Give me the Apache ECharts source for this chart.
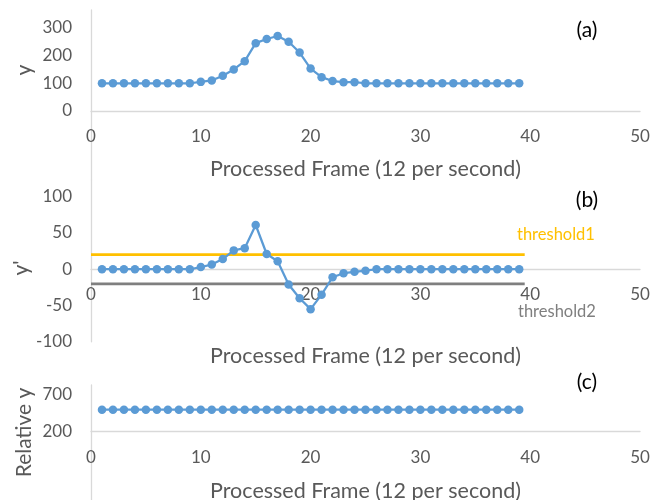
<!DOCTYPE html>
<html>
<head>
<meta charset="utf-8">
<script src="https://cdn.jsdelivr.net/npm/echarts@6/dist/echarts.min.js"></script>
<style>
html,body{margin:0;padding:0;background:#fff;}
#c{width:651px;height:500px;}
</style>
</head>
<body>
<div id="c"></div>
<script>
// ---- data ----
var frames = [1,2,3,4,5,6,7,8,9,10,11,12,13,14,15,16,17,18,19,20,21,22,23,24,25,26,27,28,29,30,31,32,33,34,35,36,37,38,39];
var yValues = [100,100,100,100,100,100,100,100,100,105,110,127,150,180,245,260,271,250,211,153,122,108,104,104,100,100,100,100,100,100,100,100,100,100,100,100,100,100,100];
var yPrime = [0,0,0,0,0,0,0,0,0,3,6.5,14,26,29,61,21,11,-21,-40,-55,-35,-11,-5.5,-3.5,-2,0,0,0,0,0,0,0,0,0,0,0,0,0,0];
var relativeY = [500,500,500,500,500,500,500,500,500,500,500,500,500,500,500,500,500,500,500,500,500,500,500,500,500,500,500,500,500,500,500,500,500,500,500,500,500,500,500];
var threshold1 = 20;
var threshold2 = -20;
var thresholdSpan = [0, 39.5];
var xTicks = [0, 10, 20, 30, 40, 50];
var yTicksA = [0, 100, 200, 300];
var yTicksB = [-100, -50, 0, 50, 100];
var yTicksC = [200, 700];
var xTitle = 'Processed Frame (12 per second)';

var FONT = 'Lato';
var LABEL = '#595959';
var AXIS = '#D9D9D9';
var BLUE = '#5B9BD5';

function pairs(xs, ys){ return xs.map(function(x,i){ return [x, ys[i]]; }); }

function xAxis(idx, gap, offset){
  return {
    type:'value', gridIndex: idx, min: xTicks[0], max: xTicks[xTicks.length-1], interval: 10,
    offset: offset,
    axisLine:{show:true, onZero:false, lineStyle:{color:AXIS, width:1.3}},
    axisTick:{show:false}, splitLine:{show:false},
    axisLabel:{color:LABEL, fontSize:17, fontFamily:FONT, margin:17},
    name: xTitle, nameLocation:'middle', nameGap: gap,
    nameTextStyle:{color:LABEL, fontSize:21.5, fontFamily:FONT}
  };
}
function yAxis(idx, min, max, ticks){
  return {
    type:'value', gridIndex: idx, min:min, max:max,
    axisLine:{show:true, onZero:false, lineStyle:{color:AXIS, width:1.3}},
    axisTick:{show:false}, splitLine:{show:false},
    axisLabel:{color:LABEL, fontSize:17, fontFamily:FONT, margin:19, customValues: ticks}
  };
}
function lineSeries(idx, data){
  return {
    type:'line', xAxisIndex:idx, yAxisIndex:idx, data:data,
    symbol:'circle', symbolSize:8.5, showAllSymbol:true,
    lineStyle:{color:BLUE, width:2.25}, itemStyle:{color:BLUE},
    animation:false, z:3
  };
}
function thresholdSeries(val, color){
  return {
    type:'line', xAxisIndex:1, yAxisIndex:1,
    data: thresholdSpan.map(function(x){ return [x, val]; }),
    symbol:'none', lineStyle:{color:color, width:2.75}, animation:false, z:2
  };
}

var chart = echarts.init(document.getElementById('c'), null, {renderer:'canvas'});
chart.setOption({
  backgroundColor:'#fff',
  animation:false,
  grid:[
    {left:91, right:11, top:10, height:170, containLabel:false, outerBoundsMode:'none'},
    {left:91, right:11, top:180, height:161.8, containLabel:false, outerBoundsMode:'none'},
    {left:91, right:11, top:385, height:115, containLabel:false, outerBoundsMode:'none'}
  ],
  xAxis:[
    xAxis(0, 47.5, -69),
    xAxis(1, 75.5, -72.5),
    xAxis(2, 48.5, -68.3)
  ],
  yAxis:[
    yAxis(0, -250, 365, yTicksA),
    yAxis(1, -100, 123, yTicksB),
    yAxis(2, -730, 836, yTicksC)
  ],
  series:[
    lineSeries(0, pairs(frames, yValues)),
    thresholdSeries(threshold1, '#FFC000'),
    thresholdSeries(threshold2, '#7F7F7F'),
    lineSeries(1, pairs(frames, yPrime)),
    lineSeries(2, pairs(frames, relativeY))
  ],
  graphic:[
    {type:'text', x:24, y:70, rotation:Math.PI/2, style:{text:'y', fill:LABEL, font:'21px Lato', textAlign:'center', textVerticalAlign:'middle'}},
    {type:'text', x:21, y:268, rotation:Math.PI/2, style:{text:"y'", fill:LABEL, font:'21px Lato', textAlign:'center', textVerticalAlign:'middle'}},
    {type:'text', x:24, y:432.5, rotation:Math.PI/2, style:{text:'Relative y', fill:LABEL, font:'21px Lato', textAlign:'center', textVerticalAlign:'middle'}},
    {type:'text', x:587, y:30, style:{text:'(a)', fill:'#000', font:'21px Lato', textAlign:'center', textVerticalAlign:'middle'}},
    {type:'text', x:587, y:200, style:{text:'(b)', fill:'#000', font:'21px Lato', textAlign:'center', textVerticalAlign:'middle'}},
    {type:'text', x:587, y:382, style:{text:'(c)', fill:'#000', font:'21px Lato', textAlign:'center', textVerticalAlign:'middle'}},
    {type:'text', x:517, y:235, style:{text:'threshold1', fill:'#FFC000', font:'16.5px Lato', textAlign:'left', textVerticalAlign:'middle'}},
    {type:'text', x:518, y:312, style:{text:'threshold2', fill:'#7F7F7F', font:'16.5px Lato', textAlign:'left', textVerticalAlign:'middle'}}
  ]
});
</script>
</body>
</html>
